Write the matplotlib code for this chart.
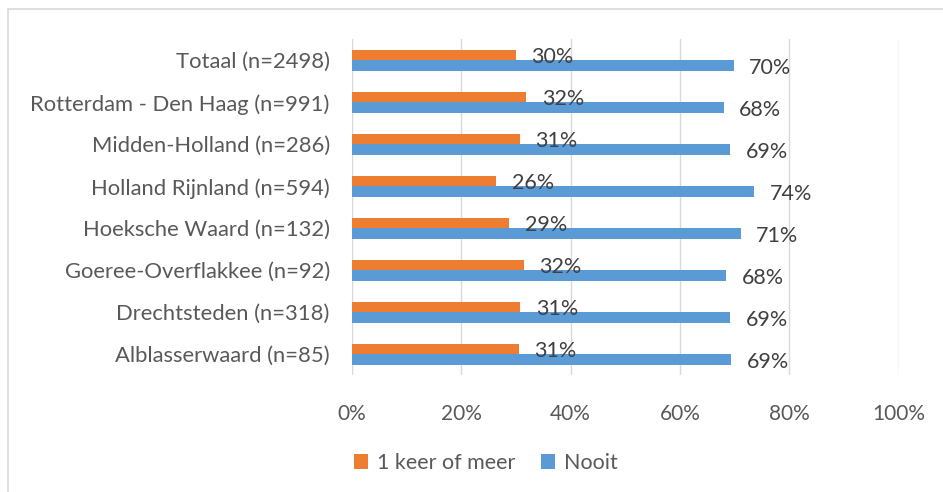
import numpy as np
import matplotlib.pyplot as plt
from matplotlib.patches import Rectangle
from matplotlib.ticker import FuncFormatter

plt.rcParams['font.family'] = ['Lato', 'DejaVu Sans']

categories = ['Totaal (n=2498)', 'Rotterdam - Den Haag (n=991)', 'Midden-Holland (n=286)',
              'Holland Rijnland (n=594)', 'Hoeksche Waard (n=132)', 'Goeree-Overflakkee (n=92)',
              'Drechtsteden (n=318)', 'Alblasserwaard (n=85)']
keer = [30.0, 31.9, 30.7, 26.4, 28.8, 31.4, 30.8, 30.5]
nooit = [69.8, 68.0, 69.2, 73.6, 71.1, 68.5, 69.2, 69.4]
keer_labels = ['30%', '32%', '31%', '26%', '29%', '32%', '31%', '31%']
nooit_labels = ['70%', '68%', '69%', '74%', '71%', '68%', '69%', '69%']

orange = '#ED7D31'
blue = '#5B9BD5'
txt = '#595959'

fig = plt.figure(figsize=(9.43, 4.92), dpi=100)
ax = fig.add_axes([352/943, 1-375.3/492, (898.7-352)/943, 336/492])

# outer chart border
fig.patches.append(Rectangle((8/943, -0.1), 1.1, 1-9/492+0.1, transform=fig.transFigure,
                             fill=False, edgecolor='#d9d9d9', linewidth=1.2))

y = np.arange(len(categories))
h = 0.255
ax.barh(y - h/2, keer, height=h, color=orange, label='1 keer of meer')
ax.barh(y + h/2, nooit, height=h, color=blue, label='Nooit')

for i in range(len(categories)):
    ax.annotate(keer_labels[i], (keer[i], y[i] - h/2), xytext=(11, -1.5),
                textcoords='offset points', ha='left', va='center',
                fontsize=15.5, color='#404040')
    ax.annotate(nooit_labels[i], (nooit[i], y[i] + h/2), xytext=(11, -1.5),
                textcoords='offset points', ha='left', va='center',
                fontsize=15.5, color='#404040')

ax.set_xlim(0, 100)
ax.set_ylim(len(categories) - 0.5, -0.5)
ax.set_xticks(np.arange(0, 101, 20))
ax.xaxis.set_major_formatter(FuncFormatter(lambda v, p: '%d%%' % v))
ax.set_yticks(y)
ax.set_yticklabels(categories)
ax.tick_params(axis='x', length=0, pad=21, labelsize=15, labelcolor=txt)
ax.tick_params(axis='y', length=0, pad=16, labelsize=15.8, labelcolor=txt)
ax.grid(axis='x', color='#d9d9d9', linewidth=1)
ax.set_axisbelow(True)
for s in ax.spines.values():
    s.set_visible(False)

fig.legend(loc='center', bbox_to_anchor=(486/943, 1-463/492), ncol=2, frameon=False,
           fontsize=15.5, labelcolor=txt, handlelength=0.65, handleheight=0.65,
           handletextpad=0.4, columnspacing=1.2)

fig.savefig('out.png', dpi=100)
